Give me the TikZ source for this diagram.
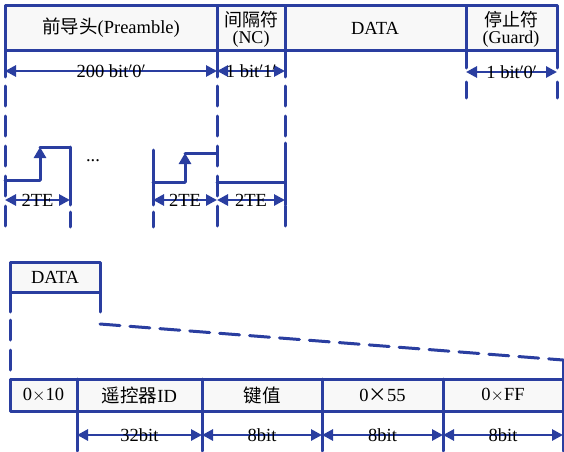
\documentclass[tikz,border=0pt]{standalone}
\usepackage{tkz-euclide}
\usepackage{fontspec}
\setmainfont{Liberation Serif}
\newfontfamily\cjk{Noto Sans CJK SC}
\usetikzlibrary{arrows.meta}
\definecolor{lineblue}{RGB}{42,62,160}
\definecolor{boxfill}{RGB}{248,248,248}
\tikzset{
  boxline/.style={draw=lineblue, line width=3pt},
  guide/.style={draw=lineblue, line width=3pt, dash pattern=on 20pt off 10pt},
  dimarrow/.style={draw=lineblue, line width=2.8pt,
    {Triangle[length=11pt,width=11pt]}-{Triangle[length=11pt,width=11pt]}},
  upedge/.style={draw=lineblue, line width=3pt, -{Triangle[length=11pt,width=12pt]}},
  lbl/.style={font=\fontsize{18.5pt}{19pt}\selectfont, inner sep=0pt, text=black},
  small/.style={font=\fontsize{18pt}{17pt}\selectfont, inner sep=0pt, align=center, text=black}
}
\begin{document}
\begin{tikzpicture}[x=1pt,y=1pt]
            \tkzSetUpLine[line width=3pt,color=lineblue]
            \useasboundingbox (0,0) rectangle (564,451);
            % frame of the packet
            \tkzDefPoints{5/445/T_0, 217/445/T_1, 285/445/T_2, 466/445/T_3, 557/445/T_4}
            \tkzDefPoints{5/401/B_0, 217/401/B_1, 285/401/B_2, 466/401/B_3, 557/401/B_4}
            \tkzDrawPolygon[boxline, fill=boxfill](T_0,T_4,B_4,B_0)
            \tkzDrawSegments[boxline](T_1,B_1 T_2,B_2 T_3,B_3)
            \node[lbl] (pre) at (111,423) {{\cjk 前导头}(Preamble)};
            \node[small] (nc) at (251,422) {{\cjk 间隔符}\\(NC)};
            \node[lbl] (data) at (375,423) {DATA};
            \node[small] (guard) at (511,422) {{\cjk 停止符}\\(Guard)};

            % guide lines
            \tkzDefPoints{5/374/S_0, 217/374/S_1, 285/374/S_2, 466/383/S_3, 557/383/S_4}
            \tkzDrawSegments[boxline](B_0,S_0 B_1,S_1 B_2,S_2 B_3,S_3 B_4,S_4)
            \tkzDefPoints{5/365/U_0, 217/365/U_1, 285/365/U_2, 5/224/V_0, 217/224/V_1, 285/224/V_2}
            \tkzDrawSegments[guide](U_0,V_0 U_1,V_1 U_2,V_2)
            \tkzDefPoints{466/369/U_3, 557/369/U_4, 466/353/V_3, 557/353/V_4}
            \tkzDrawSegments[boxline](U_3,V_3 U_4,V_4)

            % bit counts
            \tkzDefPoints{5/380/A_0, 217/380/A_1, 285/380/A_2, 466/379/A_3, 557/379/A_4}
            \tkzDrawSegments[dimarrow](A_0,A_1 A_1,A_2 A_3,A_4)
            \path (A_0) -- node[lbl] (n200) {200 bit$'$0$'$} (A_1);
            \path (A_1) -- node[lbl] (n1) {1 bit$'$1$'$} (A_2);
            \path (A_3) -- node[lbl] (n0) {1 bit$'$0$'$} (A_4);

            %%%%%%%%%%%%%%%%%%%%
            % first bit '0'
            \tkzDefPoints{5/271/W_0, 40/271/W_1, 40/304/W_2, 70/304/W_3, 70/246/W_4}
            \tkzDrawSegment[boxline](W_0,W_1)
            \tkzDrawSegment[upedge](W_1,W_2)
            \tkzDrawSegments[boxline](W_2,W_3 W_3,W_4)

            % last bit '0'
            \tkzDefPoints{153/301/X_0, 153/246/X_1, 153/269/X_2, 185/269/X_3, 185/298/X_4, 217/298/X_5}
            \tkzDrawSegments[boxline](X_0,X_1 X_2,X_3 X_4,X_5)
            \tkzDrawSegment[upedge](X_3,X_4)

            % bit '1'
            \tkzDefPoints{217/269/Y_0, 285/269/Y_1, 285/308/Y_2, 285/246/Y_3}
            \tkzDrawSegments[boxline](Y_0,Y_1 Y_2,Y_3)

            \tkzDefPoints{70/239/Z_0, 70/224/Z_1, 153/239/Z_2, 153/224/Z_3}
            \tkzDrawSegments[boxline](Z_0,Z_1 Z_2,Z_3)
            %\tkzDrawPoints(W_0,X_0,Y_0)

            \tkzDefPoints{5/251/E_0, 70/251/E_1, 153/251/E_2, 217/251/E_3, 285/251/E_4}
            \tkzDrawSegments[dimarrow](E_0,E_1 E_2,E_3 E_3,E_4)
            \path (E_0) -- node[lbl] (te1) {2TE} (E_1);
            \path (E_2) -- node[lbl] (te2) {2TE} (E_3);
            \path (E_3) -- node[lbl] (te3) {2TE} (E_4);
            \node[lbl] (dots) at (93,290) {...};

            %%%%%%%%%%%%%%%%%%%%
            % DATA field
            \tkzDefPoints{10/189/D_0, 100/189/D_1, 100/159/D_2, 10/159/D_3}
            \tkzDrawPolygon[boxline, fill=boxfill](D_0,D_1,D_2,D_3)
            \node[lbl] (datab) at (55,174) {DATA};
            \tkzDefPoints{10/139/G_0, 100/139/G_1, 10/131/G_2, 100/127/H_0, 563/91/H_1}
            \tkzDrawSegments[boxline](D_3,G_0 D_2,G_1)

            \tkzDefPoints{10/72/K_0, 77/72/K_1, 202/72/K_2, 322/72/K_3, 443/72/K_4, 563/72/K_5}
            \tkzDefPoints{10/40/L_0, 77/40/L_1, 202/40/L_2, 322/40/L_3, 443/40/L_4, 563/40/L_5}
            \tkzDrawSegments[guide](G_2,K_0 H_0,H_1)
            \tkzDrawPolygon[boxline, fill=boxfill](K_0,K_5,L_5,L_0)
            \tkzDrawSegments[boxline](K_1,L_1 K_2,L_2 K_3,L_3 K_4,L_4 H_1,K_5)
            \node[lbl] (head) at (43.5,56) {0$\times$10};
            \node[lbl] (rcid) at (139.5,56) {{\cjk 遥控器}ID};
            \node[lbl] (key) at (262,56) {\cjk 键值};
            \node[lbl] (chk) at (382.5,56) {0{\cjk ×}55};
            \node[lbl] (tail) at (503,56) {0$\times$FF};

            \tkzDefPoints{77/0/M_1, 202/0/M_2, 322/0/M_3, 443/0/M_4, 563/0/M_5}
            \tkzDrawSegments[boxline](L_1,M_1 L_2,M_2 L_3,M_3 L_4,M_4 L_5,M_5)
            \tkzDefPoints{77/16/N_1, 202/16/N_2, 322/16/N_3, 443/16/N_4, 563/16/N_5}
            \tkzDrawSegments[dimarrow](N_1,N_2 N_2,N_3 N_3,N_4 N_4,N_5)
            \path (N_1) -- node[lbl] (b32) {32bit} (N_2);
            \path (N_2) -- node[lbl] (b8a) {8bit} (N_3);
            \path (N_3) -- node[lbl] (b8b) {8bit} (N_4);
            \path (N_4) -- node[lbl] (b8c) {8bit} (N_5);
        \end{tikzpicture}
\end{document}
